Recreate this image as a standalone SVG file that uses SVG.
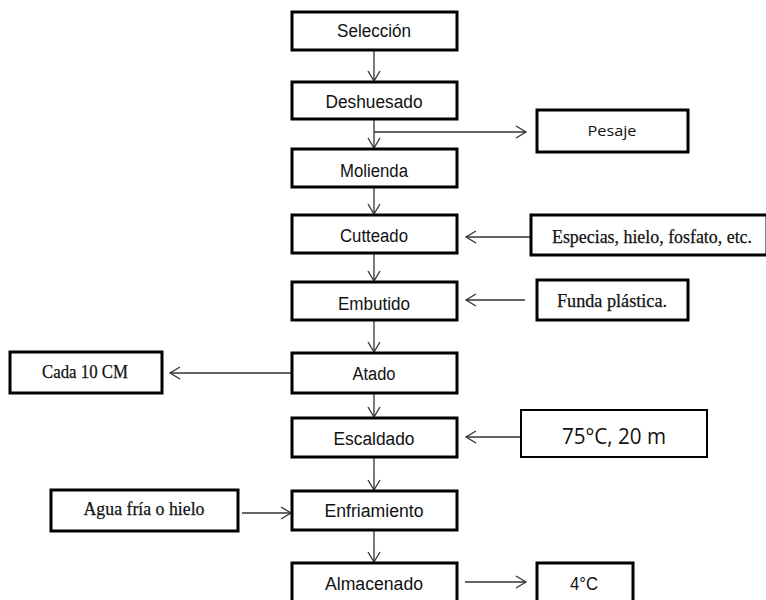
<svg xmlns="http://www.w3.org/2000/svg" width="766" height="600" viewBox="0 0 766 600">
<style>
.box{fill:#fff;stroke:#000;stroke-width:3}
.thin{stroke-width:2}
.m{font-family:"Liberation Sans",Arial,sans-serif;font-size:18px;fill:#111;text-anchor:middle}
.s{font-family:"Liberation Serif","Times New Roman",serif;font-size:18.5px;fill:#111;text-anchor:middle;stroke:#111;stroke-width:0.25}
.c{font-family:"Open Sans","Liberation Sans",sans-serif;fill:#111;text-anchor:middle}
.ln{fill:none;stroke:#333;stroke-width:1.3;marker-end:url(#a)}
</style>
<defs>
<marker id="a" markerWidth="14" markerHeight="14" refX="11" refY="7" orient="auto" markerUnits="userSpaceOnUse">
<path d="M1,1 L11,7 L1,13" fill="none" stroke="#333" stroke-width="1.3"/>
</marker>
</defs>
<g id="connectors">
<path class="ln" d="M374,51 V81"/>
<path class="ln" d="M374,120 V148"/>
<path class="ln" d="M374,132 H526"/>
<path class="ln" d="M374,188 V214"/>
<path class="ln" d="M374,254 V281"/>
<path class="ln" d="M374,321 V352"/>
<path class="ln" d="M374,394 V417"/>
<path class="ln" d="M374,458 V490"/>
<path class="ln" d="M374,531 V562"/>
<path class="ln" d="M531,237 H466"/>
<path class="ln" d="M525,300 H466"/>
<path class="ln" d="M292,373 H170"/>
<path class="ln" d="M242,513 H291"/>
<path class="ln" d="M521,437 H466"/>
<path class="ln" d="M465,582 H526"/>
</g>
<g id="seleccion"><rect class="box" x="292" y="12" width="165" height="38"/><text class="m" x="374" y="37" textLength="74" lengthAdjust="spacingAndGlyphs">Selección</text></g>
<g id="deshuesado"><rect class="box" x="292" y="82" width="165" height="37"/><text class="m" x="374" y="108" textLength="97" lengthAdjust="spacingAndGlyphs">Deshuesado</text></g>
<g id="molienda"><rect class="box" x="292" y="149" width="165" height="38"/><text class="m" x="374" y="177" textLength="68" lengthAdjust="spacingAndGlyphs">Molienda</text></g>
<g id="cutteado"><rect class="box" x="292" y="215" width="165" height="38"/><text class="m" x="374" y="242" textLength="68" lengthAdjust="spacingAndGlyphs">Cutteado</text></g>
<g id="embutido"><rect class="box" x="292" y="282" width="165" height="38"/><text class="m" x="374" y="310" textLength="72" lengthAdjust="spacingAndGlyphs">Embutido</text></g>
<g id="atado"><rect class="box" x="292" y="353" width="165" height="40"/><text class="m" x="374" y="380" textLength="43" lengthAdjust="spacingAndGlyphs">Atado</text></g>
<g id="escaldado"><rect class="box" x="292" y="418" width="165" height="39"/><text class="m" x="374" y="445" textLength="81" lengthAdjust="spacingAndGlyphs">Escaldado</text></g>
<g id="enfriamiento"><rect class="box" x="292" y="491" width="165" height="39"/><text class="m" x="374" y="517" textLength="99" lengthAdjust="spacingAndGlyphs">Enfriamiento</text></g>
<g id="almacenado"><rect class="box" x="292" y="563" width="165" height="40"/><text class="m" x="374" y="590" textLength="98" lengthAdjust="spacingAndGlyphs">Almacenado</text></g>
<g id="pesaje"><rect class="box" x="537" y="110" width="151" height="42"/><text class="c" x="612" y="136" font-size="15" textLength="49" lengthAdjust="spacingAndGlyphs">Pesaje</text></g>
<g id="especias"><rect class="box" x="531" y="215" width="236" height="40"/><text class="s" x="652" y="243" textLength="200" lengthAdjust="spacingAndGlyphs">Especias, hielo, fosfato, etc.</text></g>
<g id="funda"><rect class="box" x="537" y="280" width="151" height="40"/><text class="s" x="612" y="307" textLength="110" lengthAdjust="spacingAndGlyphs">Funda plástica.</text></g>
<g id="cada"><rect class="box" x="10" y="352" width="152" height="41"/><text class="s" x="85" y="378" textLength="86" lengthAdjust="spacingAndGlyphs">Cada 10 CM</text></g>
<g id="agua"><rect class="box" x="51" y="490" width="187" height="41"/><text class="s" x="144" y="515" textLength="121" lengthAdjust="spacingAndGlyphs">Agua fría o hielo</text></g>
<g id="temp75"><rect class="box thin" x="521" y="410" width="186" height="47"/><text class="c" x="614" y="444" font-size="21" textLength="104" lengthAdjust="spacingAndGlyphs">75°C, 20 m</text></g>
<g id="temp4"><rect class="box" x="537" y="563" width="96" height="40"/><text class="m" x="584" y="590" textLength="28" lengthAdjust="spacingAndGlyphs">4°C</text></g>
</svg>
